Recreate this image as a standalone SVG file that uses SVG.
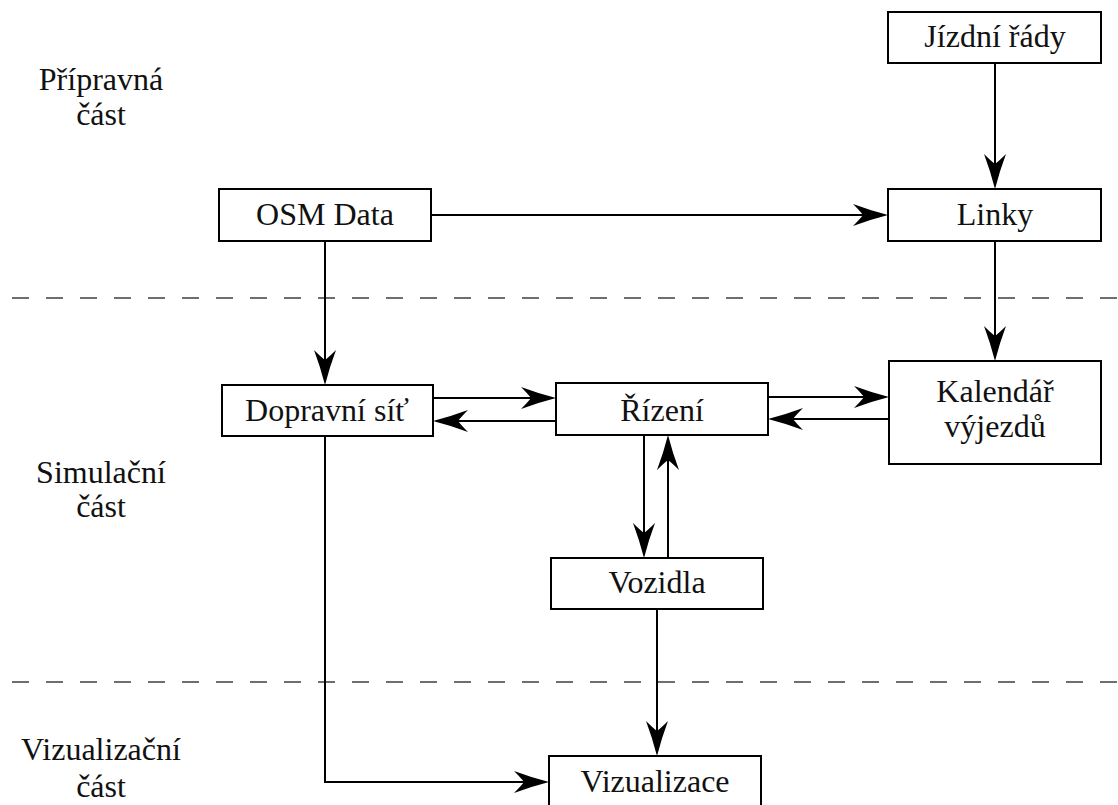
<svg xmlns="http://www.w3.org/2000/svg" width="1118" height="805" viewBox="0 0 1118 805">
  <style>
    .box { fill: #fff; stroke: #000; stroke-width: 2; }
    .lbl { font-family: "Liberation Serif", "DejaVu Serif", serif; font-size: 32px; fill: #111; text-anchor: middle; }
    .side { font-family: "Liberation Serif", "DejaVu Serif", serif; font-size: 32px; fill: #111; text-anchor: middle; }
    .sep { stroke: #6e6e6e; stroke-width: 2; stroke-dasharray: 17 17; fill: none; }
    .edge { stroke: #000; stroke-width: 2; fill: none; marker-end: url(#head); }
  </style>
  <defs>
    <!-- concave arrowhead; its tip sits 22px beyond the end of the line -->
    <marker id="head" markerUnits="userSpaceOnUse" markerWidth="60" markerHeight="40" refX="0" refY="0" orient="auto" overflow="visible">
      <path d="M22,0 Q4,4.6 -13,11 Q-6,4 -3,0 Q-6,-4 -13,-11 Q4,-4.6 22,0 Z" fill="#000"/>
    </marker>
  </defs>

  <rect width="1118" height="805" fill="#fff"/>

  <!-- section separators -->
  <g id="separators">
    <line class="sep" x1="12" y1="298" x2="1118" y2="298"/>
    <line class="sep" x1="12" y1="682" x2="1118" y2="682"/>
  </g>

  <!-- section captions -->
  <g id="sections">
    <text class="side" x="101" y="90">Přípravná</text>
    <text class="side" x="101" y="125">část</text>
    <text class="side" x="101" y="483">Simulační</text>
    <text class="side" x="101" y="517">část</text>
    <text class="side" x="101" y="760">Vizualizační</text>
    <text class="side" x="101" y="797">část</text>
  </g>

  <!-- connectors -->
  <g id="connectors">
    <path class="edge" d="M995,63 V167"/>
    <path class="edge" d="M431,215 H866"/>
    <path class="edge" d="M325,241 V363"/>
    <path class="edge" d="M995,241 V339"/>
    <path class="edge" d="M433,398 H534"/>
    <path class="edge" d="M556,421 H455"/>
    <path class="edge" d="M768,397 H867"/>
    <path class="edge" d="M889,419 H790"/>
    <path class="edge" d="M644,435 V536"/>
    <path class="edge" d="M668,558 V457"/>
    <path class="edge" d="M657,609 V734"/>
    <path class="edge" d="M325,436 V782 H527"/>
  </g>

  <g id="jizdni-rady">
    <rect class="box" x="888" y="12" width="213" height="51"/>
    <text class="lbl" x="995" y="47">Jízdní řády</text>
  </g>
  <g id="linky">
    <rect class="box" x="888" y="189" width="213" height="52"/>
    <text class="lbl" x="995" y="225">Linky</text>
  </g>
  <g id="osm-data">
    <rect class="box" x="219" y="189" width="212" height="52"/>
    <text class="lbl" x="325" y="225">OSM Data</text>
  </g>
  <g id="dopravni-sit">
    <rect class="box" x="222" y="385" width="211" height="51"/>
    <text class="lbl" x="327" y="421">Dopravní síť</text>
  </g>
  <g id="rizeni">
    <rect class="box" x="556" y="383" width="212" height="52"/>
    <text class="lbl" x="662" y="421">Řízení</text>
  </g>
  <g id="kalendar-vyjezdu">
    <rect class="box" x="889" y="361" width="212" height="103"/>
    <text class="lbl" x="995" y="402">Kalendář</text>
    <text class="lbl" x="995" y="437">výjezdů</text>
  </g>
  <g id="vozidla">
    <rect class="box" x="551" y="558" width="212" height="51"/>
    <text class="lbl" x="657" y="593">Vozidla</text>
  </g>
  <g id="vizualizace">
    <rect class="box" x="549" y="756" width="212" height="60"/>
    <text class="lbl" x="655" y="792">Vizualizace</text>
  </g>
</svg>
